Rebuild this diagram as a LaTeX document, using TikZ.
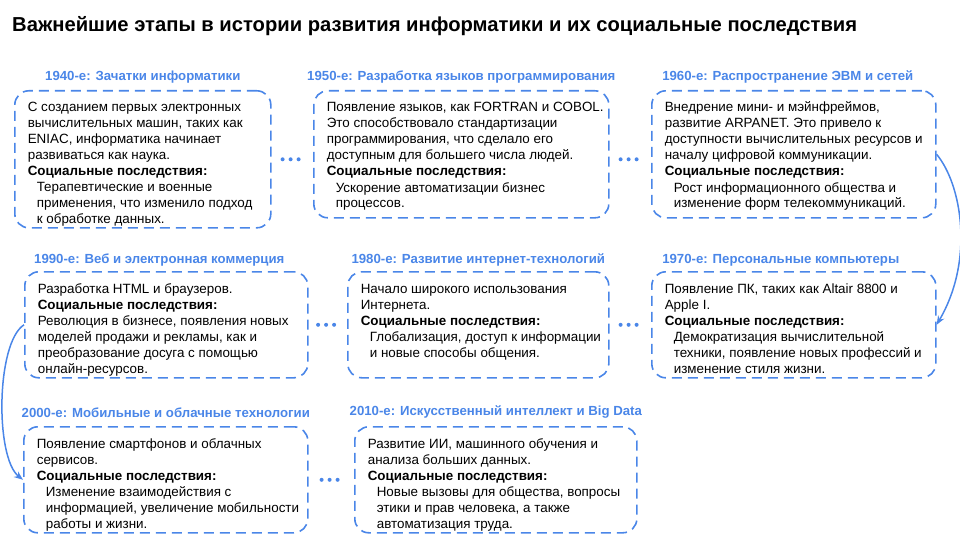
\documentclass[tikz,border=0pt]{standalone}
\usepackage{fontspec}
\setmainfont{Liberation Sans}
\usetikzlibrary{arrows.meta,positioning}

\definecolor{eraBlue}{HTML}{4A86E8}
% box body: height, width, lines
\newcommand{\eratext}[3]{\parbox[c][#1][t]{#2}{\begin{tabular}[t]{@{}l@{}}#3\end{tabular}}}
\newcommand{\effects}{\textbf{Социальные последствия:}}
\newcommand{\effin}{\hspace*{9pt}}

\begin{document}
\begin{tikzpicture}[
    x=1pt, y=-1pt,
    >={Stealth[length=9pt, width=7pt]},
    node font=\fontsize{13.4}{16}\selectfont,
    era box/.style={draw=eraBlue, line width=1.6pt, dash pattern=on 10pt off 6pt,
        rounded corners=14pt, inner xsep=13pt, inner ysep=10pt, anchor=north west},
    era title/.style={font=\bfseries\fontsize{13.2}{15}\selectfont, text=eraBlue, inner sep=0pt},
    dot link/.style={eraBlue, line width=4pt, line cap=round,
        dash pattern=on 0pt off 8pt, shorten <=#1, shorten >=#1},
    flow arrow/.style={->, eraBlue, line width=1.5pt},
]
\useasboundingbox (0,0) rectangle (960,540);

% === Title ===
\node[anchor=base west, inner sep=0pt, font=\bfseries\fontsize{20.2}{24}\selectfont]
    (title) at (12,32) {Важнейшие этапы в истории развития информатики и их социальные последствия};

% === Row 1 ===
\node[era box] (b1940) at (14,90) {\eratext{117pt}{230pt}{%
    С созданием первых электронных\\
    вычислительных машин, таких как\\
    ENIAC, информатика начинает\\
    развиваться как наука.\\
    \effects\\
    \effin Терапевтические и военные\\
    \effin применения, что изменило подход\\
    \effin к обработке данных.}};
\node[era box] (b1950) at (313,90) {\eratext{107pt}{269pt}{%
    Появление языков, как FORTRAN и COBOL.\\
    Это способствовало стандартизации\\
    программирования, что сделало его\\
    доступным для большего числа людей.\\
    \effects\\
    \effin Ускорение автоматизации бизнес\\
    \effin процессов.}};
\node[era box] (b1960) at (651,90) {\eratext{107pt}{258pt}{%
    Внедрение мини- и мэйнфреймов,\\
    развитие ARPANET. Это привело к\\
    доступности вычислительных ресурсов и\\
    началу цифровой коммуникации.\\
    \effects\\
    \effin Рост информационного общества и\\
    \effin изменение форм телекоммуникаций.}};

\node[era title, above=7pt of b1940] {1940-е: Зачатки информатики};
\node[era title, above=7pt of b1950] {1950-е: Разработка языков программирования};
\node[era title, above=7pt of b1960, xshift=-6pt] {1960-е: Распространение ЭВМ и сетей};

% === Row 2 ===
\node[era box] (b1990) at (24,271) {\eratext{86pt}{257pt}{%
    Разработка HTML и браузеров.\\
    \effects\\
    Революция в бизнесе, появления новых\\
    моделей продажи и рекламы, как и\\
    преобразование досуга с помощью\\
    онлайн-ресурсов.}};
\node[era box] (b1980) at (347,271) {\eratext{86pt}{235pt}{%
    Начало широкого использования\\
    Интернета.\\
    \effects\\
    \effin Глобализация, доступ к информации\\
    \effin и новые способы общения.}};
\node[era box] (b1970) at (651,271) {\eratext{86pt}{258pt}{%
    Появление ПК, таких как Altair 8800 и\\
    Apple I.\\
    \effects\\
    \effin Демократизация вычислительной\\
    \effin техники, появление новых профессий и\\
    \effin изменение стиля жизни.}};

\node[era title, above=5pt of b1990, xshift=-7pt] {1990-е: Веб и электронная коммерция};
\node[era title, above=5pt of b1980] {1980-е: Развитие интернет-технологий};
\node[era title, above=5pt of b1970, xshift=-13pt] {1970-е: Персональные компьютеры};

% === Row 3 ===
\node[era box] (b2000) at (23,426) {\eratext{86pt}{258pt}{%
    Появление смартфонов и облачных\\
    сервисов.\\
    \effects\\
    \effin Изменение взаимодействия с\\
    \effin информацией, увеличение мобильности\\
    \effin работы и жизни.}};
\node[era box] (b2010) at (354,426) {\eratext{86pt}{256pt}{%
    Развитие ИИ, машинного обучения и\\
    анализа больших данных.\\
    \effects\\
    \effin Новые вызовы для общества, вопросы\\
    \effin этики и прав человека, а также\\
    \effin автоматизация труда.}};

\node[era title, above=8pt of b2000] {2000-е: Мобильные и облачные технологии};
\node[era title, above=8pt of b2010] {2010-е: Искусственный интеллект и Big Data};

% Dotted links
\draw[dot link=11pt] (b1940.east) -- (b1940.east -| b1950.west);
\draw[dot link=11pt] (b1950.east |- b1940.east) -- (b1960.west |- b1940.east);
\draw[dot link=9.5pt] (b1990.east) -- (b1990.east -| b1980.west);
\draw[dot link=11pt] (b1980.east) -- (b1980.east -| b1970.west);
\draw[dot link=13pt] (b2000.east) -- (b2000.east -| b2010.west);

% Row changes
\draw[flow arrow] (b1960.east) .. controls +(25,30) and +(38,-65) .. (b1970.east);
\draw[flow arrow] (b1990.west) .. controls +(-28,18) and +(-28,-22) .. (b2000.west);

\end{tikzpicture}
\end{document}
